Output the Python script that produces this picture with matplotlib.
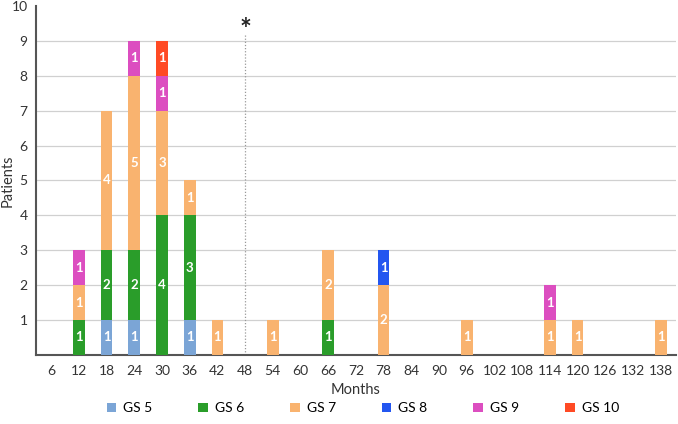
import matplotlib
matplotlib.use("Agg")
import matplotlib.pyplot as plt
import numpy as np

plt.rcParams['font.family'] = ['Lato', 'DejaVu Sans']

months = [6, 12, 18, 24, 30, 36, 42, 48, 54, 60, 66, 72, 78, 84, 90, 96, 102, 108, 114, 120, 126, 132, 138]
series_names = ["GS 5", "GS 6", "GS 7", "GS 8", "GS 9", "GS 10"]
gs5 = [0, 0, 1, 1, 0, 1, 0, 0, 0, 0, 0, 0, 0, 0, 0, 0, 0, 0, 0, 0, 0, 0, 0]
gs6 = [0, 1, 2, 2, 4, 3, 0, 0, 0, 0, 1, 0, 0, 0, 0, 0, 0, 0, 0, 0, 0, 0, 0]
gs7 = [0, 1, 4, 5, 3, 1, 1, 0, 1, 0, 2, 0, 2, 0, 0, 1, 0, 0, 1, 1, 0, 0, 1]
gs8 = [0, 0, 0, 0, 0, 0, 0, 0, 0, 0, 0, 0, 1, 0, 0, 0, 0, 0, 0, 0, 0, 0, 0]
gs9 = [0, 1, 0, 1, 1, 0, 0, 0, 0, 0, 0, 0, 0, 0, 0, 0, 0, 0, 1, 0, 0, 0, 0]
gs10 = [0, 0, 0, 0, 1, 0, 0, 0, 0, 0, 0, 0, 0, 0, 0, 0, 0, 0, 0, 0, 0, 0, 0]
colors = ["#7ba5d6", "#2a9d2a", "#f9b36f", "#2356f0", "#dc4ec0", "#ff4a24"]
marker_month = 48

fig = plt.figure(figsize=(6.78, 4.24), dpi=100)
ax = fig.add_axes([0.053, 0.163, 0.944, 0.823])

x = np.arange(len(months))
bottom = np.zeros(len(months))
handles = []
for name, vals, col in zip(series_names, [gs5, gs6, gs7, gs8, gs9, gs10], colors):
    vals = np.array(vals, dtype=float)
    b = ax.bar(x, vals, width=0.42, bottom=bottom, color=col, label=name, zorder=3)
    handles.append(b)
    for xi, v, bt in zip(x, vals, bottom):
        if v > 0:
            ax.text(xi, bt + v / 2, f"{int(v)}", ha="center", va="center", color="white",
                    fontsize=9.5, fontweight="bold", zorder=4)
    bottom += vals

ax.set_xlim(-0.55, len(months) - 0.45)
ax.set_ylim(0, 10)
ax.set_yticks(range(1, 11))
ax.set_xticks(x)
ax.set_xticklabels([str(m) for m in months])
ax.tick_params(axis="both", length=0, labelsize=10, colors="#333333")
ax.tick_params(axis="x", pad=7)
ax.tick_params(axis="y", pad=6)
for yv in range(1, 10):
    ax.axhline(yv, color="#d0d0d0", lw=0.9, zorder=1)
for s in ["top", "right"]:
    ax.spines[s].set_visible(False)
for s in ["left", "bottom"]:
    ax.spines[s].set_color("#555555")
    ax.spines[s].set_linewidth(1.5)

mi = months.index(marker_month)
ax.plot([mi, mi], [0, 9.2], color="#999999", lw=0.9, ls=(0, (1, 1.5)), zorder=2)
ax.text(mi, 8.93, "*", ha="center", va="bottom", fontsize=20, fontweight="bold", color="#222222")

ax.set_xlabel("Months", fontsize=10.5, color="#333333")
ax.xaxis.set_label_coords(0.5, -0.08)
ax.set_ylabel("Patients", fontsize=10.5, color="#333333")
ax.yaxis.set_label_coords(-0.034, 0.5)

fig.legend(handles=handles, labels=series_names, loc="center", ncol=6,
           bbox_to_anchor=(0.535, 0.037), frameon=False, fontsize=10, handlelength=0.7,
           handleheight=0.7, handletextpad=0.5, columnspacing=3.3)

fig.savefig("out.png", dpi=100)
